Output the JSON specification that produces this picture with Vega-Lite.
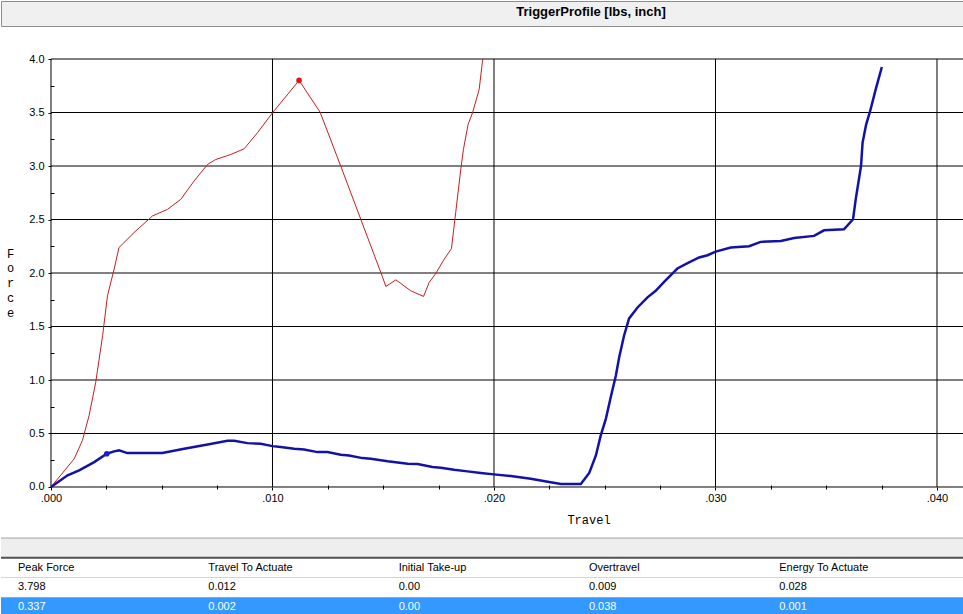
{
  "$schema": "https://vega.github.io/schema/vega-lite/v6.json",
  "padding": 0,
  "autosize": {"type": "pad"},
  "background": "#FFFFFF",
  "spacing": 0,
  "config": {"view": {"stroke": null}, "font": "Liberation Sans"},
  "datasets": {
    "hgrid": [{"f": 0}, {"f": 0.5}, {"f": 1}, {"f": 1.5}, {"f": 2}, {"f": 2.5}, {"f": 3}, {"f": 3.5}, {"f": 4}],
    "vgrid": [{"t": 0}, {"t": 0.01}, {"t": 0.02}, {"t": 0.03}, {"t": 0.04}],
    "curves": [
      {"s": "red", "travel": 0, "force": 0},
      {"s": "red", "travel": 0.00105, "force": 0.264},
      {"s": "red", "travel": 0.00142, "force": 0.435},
      {"s": "red", "travel": 0.00172, "force": 0.668},
      {"s": "red", "travel": 0.00202, "force": 0.979},
      {"s": "red", "travel": 0.00233, "force": 1.414},
      {"s": "red", "travel": 0.00255, "force": 1.787},
      {"s": "red", "travel": 0.00285, "force": 2.036},
      {"s": "red", "travel": 0.00307, "force": 2.238},
      {"s": "red", "travel": 0.00375, "force": 2.378},
      {"s": "red", "travel": 0.00458, "force": 2.533},
      {"s": "red", "travel": 0.00526, "force": 2.595},
      {"s": "red", "travel": 0.00586, "force": 2.688},
      {"s": "red", "travel": 0.00646, "force": 2.86},
      {"s": "red", "travel": 0.00707, "force": 3.015},
      {"s": "red", "travel": 0.00744, "force": 3.061},
      {"s": "red", "travel": 0.00812, "force": 3.108},
      {"s": "red", "travel": 0.00872, "force": 3.161},
      {"s": "red", "travel": 0.00932, "force": 3.31},
      {"s": "red", "travel": 0.01, "force": 3.497},
      {"s": "red", "travel": 0.0112, "force": 3.8},
      {"s": "red", "travel": 0.01215, "force": 3.503},
      {"s": "red", "travel": 0.01308, "force": 3.0},
      {"s": "red", "travel": 0.01399, "force": 2.5},
      {"s": "red", "travel": 0.01489, "force": 2.005},
      {"s": "red", "travel": 0.01512, "force": 1.874},
      {"s": "red", "travel": 0.01557, "force": 1.936},
      {"s": "red", "travel": 0.01624, "force": 1.834},
      {"s": "red", "travel": 0.01682, "force": 1.781},
      {"s": "red", "travel": 0.01707, "force": 1.911},
      {"s": "red", "travel": 0.01737, "force": 1.995},
      {"s": "red", "travel": 0.01775, "force": 2.129},
      {"s": "red", "travel": 0.01808, "force": 2.228},
      {"s": "red", "travel": 0.01827, "force": 2.564},
      {"s": "red", "travel": 0.0185, "force": 2.968},
      {"s": "red", "travel": 0.01862, "force": 3.155},
      {"s": "red", "travel": 0.01883, "force": 3.388},
      {"s": "red", "travel": 0.01903, "force": 3.497},
      {"s": "red", "travel": 0.01933, "force": 3.714},
      {"s": "red", "travel": 0.01948, "force": 3.979},
      {"s": "red", "travel": 0.0195, "force": 4.0},
      {"s": "blue", "travel": 0, "force": 0},
      {"s": "blue", "travel": 0.00075, "force": 0.109},
      {"s": "blue", "travel": 0.00127, "force": 0.156},
      {"s": "blue", "travel": 0.00195, "force": 0.233},
      {"s": "blue", "travel": 0.00252, "force": 0.311},
      {"s": "blue", "travel": 0.00285, "force": 0.333},
      {"s": "blue", "travel": 0.00307, "force": 0.342},
      {"s": "blue", "travel": 0.00345, "force": 0.317},
      {"s": "blue", "travel": 0.00503, "force": 0.317},
      {"s": "blue", "travel": 0.00601, "force": 0.357},
      {"s": "blue", "travel": 0.00707, "force": 0.398},
      {"s": "blue", "travel": 0.00797, "force": 0.432},
      {"s": "blue", "travel": 0.00827, "force": 0.432},
      {"s": "blue", "travel": 0.00887, "force": 0.41},
      {"s": "blue", "travel": 0.00947, "force": 0.404},
      {"s": "blue", "travel": 0.01, "force": 0.382},
      {"s": "blue", "travel": 0.01037, "force": 0.373},
      {"s": "blue", "travel": 0.01098, "force": 0.357},
      {"s": "blue", "travel": 0.01143, "force": 0.351},
      {"s": "blue", "travel": 0.01203, "force": 0.326},
      {"s": "blue", "travel": 0.01248, "force": 0.326},
      {"s": "blue", "travel": 0.01308, "force": 0.301},
      {"s": "blue", "travel": 0.01346, "force": 0.295},
      {"s": "blue", "travel": 0.01406, "force": 0.27},
      {"s": "blue", "travel": 0.01444, "force": 0.264},
      {"s": "blue", "travel": 0.0152, "force": 0.24},
      {"s": "blue", "travel": 0.0161, "force": 0.217},
      {"s": "blue", "travel": 0.01655, "force": 0.214},
      {"s": "blue", "travel": 0.01722, "force": 0.186},
      {"s": "blue", "travel": 0.0176, "force": 0.18},
      {"s": "blue", "travel": 0.0182, "force": 0.161},
      {"s": "blue", "travel": 0.0188, "force": 0.146},
      {"s": "blue", "travel": 0.0194, "force": 0.131},
      {"s": "blue", "travel": 0.02, "force": 0.118},
      {"s": "blue", "travel": 0.02076, "force": 0.103},
      {"s": "blue", "travel": 0.02166, "force": 0.077},
      {"s": "blue", "travel": 0.02249, "force": 0.047},
      {"s": "blue", "travel": 0.02302, "force": 0.028},
      {"s": "blue", "travel": 0.02392, "force": 0.028},
      {"s": "blue", "travel": 0.0243, "force": 0.131},
      {"s": "blue", "travel": 0.0246, "force": 0.295},
      {"s": "blue", "travel": 0.02482, "force": 0.482},
      {"s": "blue", "travel": 0.02505, "force": 0.637},
      {"s": "blue", "travel": 0.02527, "force": 0.839},
      {"s": "blue", "travel": 0.0255, "force": 1.04},
      {"s": "blue", "travel": 0.02565, "force": 1.21},
      {"s": "blue", "travel": 0.02587, "force": 1.414},
      {"s": "blue", "travel": 0.0261, "force": 1.576},
      {"s": "blue", "travel": 0.02648, "force": 1.678},
      {"s": "blue", "travel": 0.02693, "force": 1.772},
      {"s": "blue", "travel": 0.0273, "force": 1.834},
      {"s": "blue", "travel": 0.02768, "force": 1.918},
      {"s": "blue", "travel": 0.02828, "force": 2.042},
      {"s": "blue", "travel": 0.02874, "force": 2.092},
      {"s": "blue", "travel": 0.02926, "force": 2.145},
      {"s": "blue", "travel": 0.02964, "force": 2.166},
      {"s": "blue", "travel": 0.03001, "force": 2.2},
      {"s": "blue", "travel": 0.03069, "force": 2.238},
      {"s": "blue", "travel": 0.03152, "force": 2.25},
      {"s": "blue", "travel": 0.03204, "force": 2.291},
      {"s": "blue", "travel": 0.03295, "force": 2.3},
      {"s": "blue", "travel": 0.03355, "force": 2.328},
      {"s": "blue", "travel": 0.03445, "force": 2.347},
      {"s": "blue", "travel": 0.0349, "force": 2.399},
      {"s": "blue", "travel": 0.0358, "force": 2.408},
      {"s": "blue", "travel": 0.03621, "force": 2.502},
      {"s": "blue", "travel": 0.03633, "force": 2.688},
      {"s": "blue", "travel": 0.03657, "force": 3.0},
      {"s": "blue", "travel": 0.03664, "force": 3.217},
      {"s": "blue", "travel": 0.0368, "force": 3.387},
      {"s": "blue", "travel": 0.03698, "force": 3.512},
      {"s": "blue", "travel": 0.03723, "force": 3.714},
      {"s": "blue", "travel": 0.03751, "force": 3.925}
    ],
    "peaks": [
      {"s": "red", "travel": 0.0112, "force": 3.8},
      {"s": "blue", "travel": 0.00252, "force": 0.311}
    ],
    "rows": [{"row": "gap"}, {"row": "head"}, {"row": "r1"}, {"row": "r2"}],
    "table": [
      {"row": "head", "col": "c1", "text": "Peak Force"},
      {"row": "head", "col": "c2", "text": "Travel To Actuate"},
      {"row": "head", "col": "c3", "text": "Initial Take-up"},
      {"row": "head", "col": "c4", "text": "Overtravel"},
      {"row": "head", "col": "c5", "text": "Energy To Actuate"},
      {"row": "r1", "col": "c1", "text": "3.798"},
      {"row": "r1", "col": "c2", "text": "0.012"},
      {"row": "r1", "col": "c3", "text": "0.00"},
      {"row": "r1", "col": "c4", "text": "0.009"},
      {"row": "r1", "col": "c5", "text": "0.028"},
      {"row": "r2", "col": "c1", "text": "0.337"},
      {"row": "r2", "col": "c2", "text": "0.002"},
      {"row": "r2", "col": "c3", "text": "0.00"},
      {"row": "r2", "col": "c4", "text": "0.038"},
      {"row": "r2", "col": "c5", "text": "0.001"}
    ]
  },
  "vconcat": [
    {
      "width": 963,
      "height": 25,
      "view": {"fill": "#F0F0F0", "stroke": "#8C8C8C"},
      "data": {"values": [{"t": "TriggerProfile [lbs, inch]"}]},
      "mark": {"type": "text", "font": "Liberation Sans", "fontSize": 13, "fontWeight": "bold", "color": "#000000", "dx": 108.5, "dy": -1.5, "align": "center", "baseline": "middle"},
      "encoding": {"text": {"field": "t"}}
    },
    {
      "width": 963,
      "height": 510,
      "resolve": {"axis": {"x": "independent", "y": "independent"}},
      "layer": [
        {
          "data": {"name": "hgrid"},
          "mark": {"type": "rule", "color": "#000000", "strokeWidth": 1},
          "encoding": {
            "y": {"field": "f", "type": "quantitative",
              "scale": {"domain": [-0.4673, 4.2991], "nice": false, "zero": false},
              "axis": {"orient": "left", "values": [0, 0.5, 1, 1.5, 2, 2.5, 3, 3.5, 4], "format": ".1f", "offset": -50, "domain": false, "grid": false, "ticks": true, "tickSize": 3, "tickColor": "#000000", "labelPadding": 4, "labelFont": "Liberation Sans", "labelFontSize": 11, "labelColor": "#000000", "labelOverlap": false, "labelBound": false,
                "title": ["F", "o", "r", "c", "e"], "titleAngle": 0, "titleFont": "Liberation Mono", "titleFontSize": 12, "titleFontWeight": "normal", "titleColor": "#000000", "titleX": -41, "titleY": 221, "titleAlign": "center", "titleBaseline": "top", "titleLineHeight": 14.75}},
            "x": {"datum": 0, "type": "quantitative",
              "scale": {"domain": [-0.002257, 0.041219], "nice": false, "zero": false},
              "axis": {"orient": "bottom", "values": [0, 0.01, 0.02, 0.03, 0.04], "labelExpr": "replace(format(datum.value, '.3f'), '0.', '.')", "offset": -50, "domain": false, "grid": false, "ticks": true, "tickSize": 3, "tickColor": "#000000", "labelPadding": 2, "labelFont": "Liberation Sans", "labelFontSize": 11, "labelColor": "#000000", "labelFlush": false, "labelOverlap": false,
                "title": "Travel", "titleFont": "Liberation Mono", "titleFontSize": 12, "titleFontWeight": "normal", "titleColor": "#000000", "titleX": 587.5, "titleY": 32, "titleBaseline": "middle", "titleAlign": "center"}},
            "x2": {"datum": 0.04122}
          }
        },
        {
          "data": {"name": "vgrid"},
          "mark": {"type": "rule", "color": "#000000", "strokeWidth": 1},
          "encoding": {
            "x": {"field": "t", "type": "quantitative",
              "scale": {"domain": [-0.002257, 0.041219], "nice": false, "zero": false},
              "axis": {"orient": "bottom", "values": [0.0025, 0.005, 0.0075, 0.0125, 0.015, 0.0175, 0.0225, 0.025, 0.0275, 0.0325, 0.035, 0.0375], "labels": false, "domain": false, "grid": false, "ticks": true, "tickSize": 4, "tickColor": "#000000", "offset": -52, "title": null}},
            "y": {"datum": 0, "type": "quantitative",
              "scale": {"domain": [-0.4673, 4.2991], "nice": false, "zero": false},
              "axis": {"orient": "left", "values": [0.25, 0.75, 1.25, 1.75, 2.25, 2.75, 3.25, 3.75], "labels": false, "domain": false, "grid": false, "ticks": true, "tickSize": 4, "tickColor": "#000000", "offset": -53, "title": null}},
            "y2": {"datum": 4}
          }
        },
        {
          "data": {"name": "curves"},
          "transform": [{"filter": "datum.s === 'red'"}],
          "mark": {"type": "line", "color": "#C81E1E", "strokeWidth": 1},
          "encoding": {
            "x": {"field": "travel", "type": "quantitative", "scale": {"domain": [-0.002257, 0.041219], "nice": false, "zero": false}, "axis": null},
            "y": {"field": "force", "type": "quantitative", "scale": {"domain": [-0.4673, 4.2991], "nice": false, "zero": false}, "axis": null}
          }
        },
        {
          "data": {"name": "curves"},
          "transform": [{"filter": "datum.s === 'blue'"}],
          "mark": {"type": "line", "color": "#1212A8", "strokeWidth": 2.5},
          "encoding": {
            "x": {"field": "travel", "type": "quantitative", "scale": {"domain": [-0.002257, 0.041219], "nice": false, "zero": false}, "axis": null},
            "y": {"field": "force", "type": "quantitative", "scale": {"domain": [-0.4673, 4.2991], "nice": false, "zero": false}, "axis": null}
          }
        },
        {
          "data": {"name": "peaks"},
          "mark": {"type": "point", "filled": true, "size": 32, "opacity": 1},
          "encoding": {
            "x": {"field": "travel", "type": "quantitative", "scale": {"domain": [-0.002257, 0.041219], "nice": false, "zero": false}, "axis": null},
            "y": {"field": "force", "type": "quantitative", "scale": {"domain": [-0.4673, 4.2991], "nice": false, "zero": false}, "axis": null},
            "color": {"field": "s", "type": "nominal", "scale": {"domain": ["red", "blue"], "range": ["#E01515", "#1E1ECC"]}, "legend": null}
          }
        }
      ]
    },
    {
      "width": 963,
      "height": 79,
      "layer": [
        {
          "data": {"name": "rows"},
          "mark": {"type": "rect"},
          "encoding": {
            "y": {"field": "row", "type": "nominal", "scale": {"type": "band", "domain": ["gap", "head", "r1", "r2"], "paddingInner": 0, "paddingOuter": 0}, "axis": null},
            "fill": {"field": "row", "type": "nominal", "scale": {"domain": ["gap", "head", "r1", "r2"], "range": ["#EEEEEE", "#FFFFFF", "#FFFFFF", "#3399FF"]}, "legend": null}
          }
        },
        {
          "data": {"name": "rows"},
          "transform": [{"filter": "datum.row === 'gap' || datum.row === 'r1'"}],
          "mark": {"type": "rule", "strokeWidth": 1},
          "encoding": {
            "y": {"field": "row", "type": "nominal", "bandPosition": 0, "scale": {"type": "band", "domain": ["gap", "head", "r1", "r2"], "paddingInner": 0, "paddingOuter": 0}, "axis": null},
            "color": {"condition": {"test": "datum.row === 'gap'", "value": "#A0A0A0"}, "value": "#D4D4D4"}
          }
        },
        {
          "data": {"name": "rows"},
          "transform": [{"filter": "datum.row === 'head'"}],
          "mark": {"type": "rule", "strokeWidth": 2, "color": "#505050"},
          "encoding": {
            "y": {"field": "row", "type": "nominal", "bandPosition": 0, "scale": {"type": "band", "domain": ["gap", "head", "r1", "r2"], "paddingInner": 0, "paddingOuter": 0}, "axis": null}
          }
        },
        {
          "data": {"name": "rows"},
          "transform": [{"filter": "datum.row === 'r2'"}],
          "mark": {"type": "rule", "strokeWidth": 1.5, "color": "#303030"},
          "encoding": {
            "y": {"field": "row", "type": "nominal", "bandPosition": 1, "scale": {"type": "band", "domain": ["gap", "head", "r1", "r2"], "paddingInner": 0, "paddingOuter": 0}, "axis": null}
          }
        },
        {
          "data": {"name": "table"},
          "mark": {"type": "text", "align": "left", "baseline": "middle", "dx": 17, "fontSize": 11, "font": "Liberation Sans"},
          "encoding": {
            "x": {"field": "col", "type": "nominal", "bandPosition": 0, "scale": {"type": "band", "domain": ["c1", "c2", "c3", "c4", "c5"], "paddingInner": 0, "paddingOuter": 0.03, "align": 0}, "axis": null},
            "y": {"field": "row", "type": "nominal", "scale": {"type": "band", "domain": ["gap", "head", "r1", "r2"], "paddingInner": 0, "paddingOuter": 0}, "axis": null},
            "text": {"field": "text"},
            "color": {"condition": {"test": "datum.row === 'r2'", "value": "#FFFFFF"}, "value": "#000000"}
          }
        }
      ]
    }
  ]
}
